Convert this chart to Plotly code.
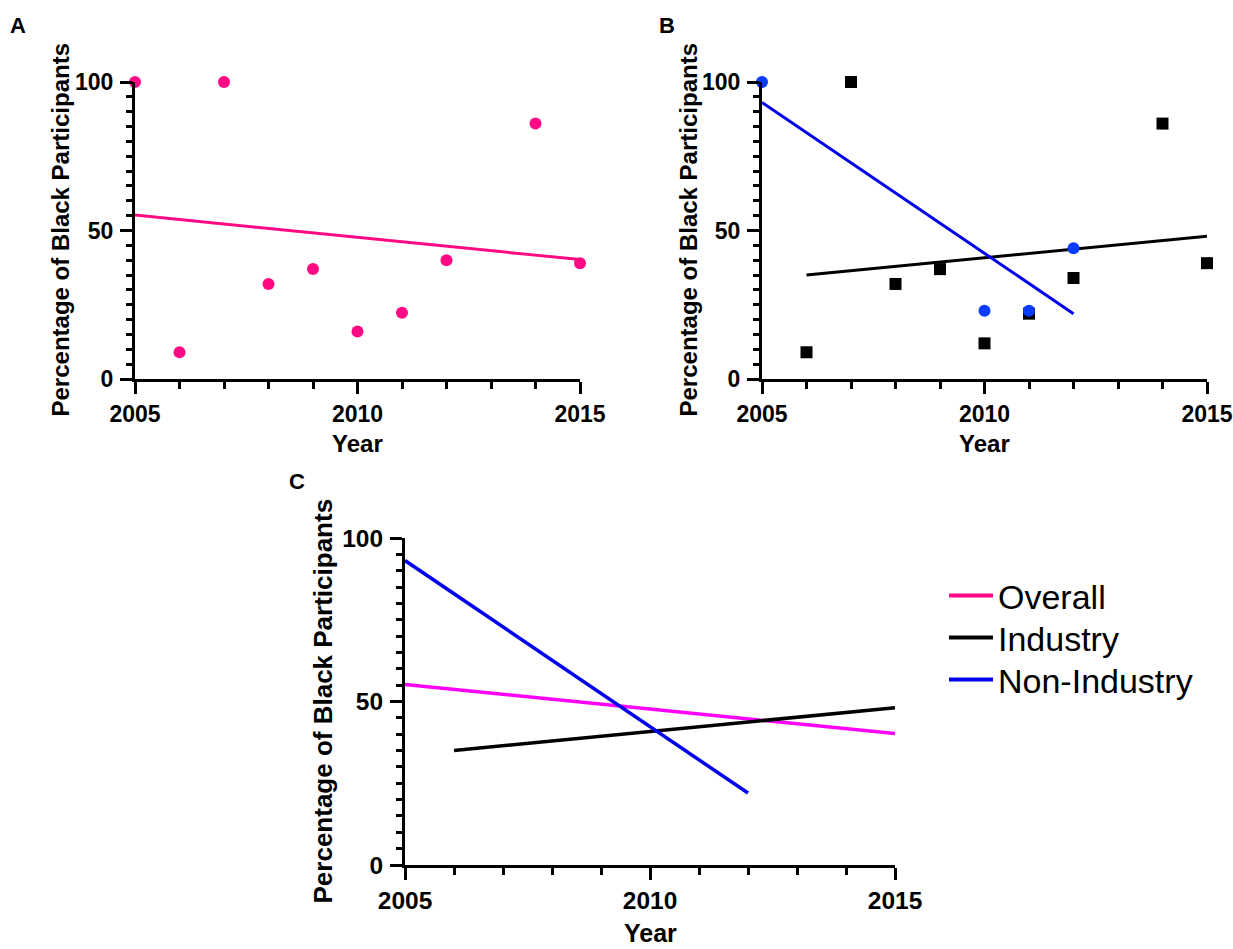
import plotly.graph_objects as go

# ---------------- data ----------------
overall_years = [2005, 2006, 2007, 2008, 2009, 2010, 2011, 2012, 2014, 2015]
overall_pct = [100, 9, 100, 32, 37, 16, 22.3, 40, 86, 39]

industry_years = [2006, 2007, 2008, 2009, 2010, 2011, 2012, 2014, 2015]
industry_pct = [9, 100, 32, 37, 12, 22, 34, 86, 39]

nonind_years = [2005, 2010, 2011, 2012]
nonind_pct = [100, 23, 23, 44]

# linear-fit lines (end points)
overall_fit_years = [2005, 2015]
overall_fit_pct = [55.2, 40.2]
industry_fit_years = [2006, 2015]
industry_fit_pct = [35.0, 48.1]
nonind_fit_years = [2005, 2012]
nonind_fit_pct = [93.1, 22.0]

x_ticks = [2005, 2010, 2015]
y_ticks = [0, 50, 100]
series_names = ["Overall", "Industry", "Non-Industry"]

# ---------------- styling ----------------
W, H = 1233, 949
FONT = "Liberation Sans, Arial, sans-serif"
PINK = "#FF0A84"
MAGENTA = "#FF00FF"
BLUE_LINE = "#0000EE"
BLUE_MARK = "#0A3CFF"
BLACK = "#000000"


def px_x(p):
    return p / W


def px_y(p):
    return 1 - p / H


fig = go.Figure()

# Panel A
fig.add_trace(go.Scatter(x=overall_fit_years, y=overall_fit_pct, mode="lines",
                         line=dict(color=PINK, width=3), xaxis="x", yaxis="y",
                         showlegend=False, cliponaxis=False))
fig.add_trace(go.Scatter(x=overall_years, y=overall_pct, mode="markers",
                         marker=dict(color=PINK, size=12, symbol="circle"),
                         xaxis="x", yaxis="y", showlegend=False, cliponaxis=False))

# Panel B
fig.add_trace(go.Scatter(x=industry_years, y=industry_pct, mode="markers",
                         marker=dict(color=BLACK, size=12, symbol="square"),
                         xaxis="x2", yaxis="y2", showlegend=False, cliponaxis=False))
fig.add_trace(go.Scatter(x=industry_fit_years, y=industry_fit_pct, mode="lines",
                         line=dict(color=BLACK, width=3), xaxis="x2", yaxis="y2",
                         showlegend=False, cliponaxis=False))
fig.add_trace(go.Scatter(x=nonind_fit_years, y=nonind_fit_pct, mode="lines",
                         line=dict(color=BLUE_LINE, width=3), xaxis="x2", yaxis="y2",
                         showlegend=False, cliponaxis=False))
fig.add_trace(go.Scatter(x=nonind_years, y=nonind_pct, mode="markers",
                         marker=dict(color=BLUE_MARK, size=12, symbol="circle"),
                         xaxis="x2", yaxis="y2", showlegend=False, cliponaxis=False))

# Panel C
fig.add_trace(go.Scatter(x=overall_fit_years, y=overall_fit_pct, mode="lines",
                         line=dict(color=MAGENTA, width=3.5), xaxis="x3", yaxis="y3",
                         showlegend=False, cliponaxis=False))
fig.add_trace(go.Scatter(x=industry_fit_years, y=industry_fit_pct, mode="lines",
                         line=dict(color=BLACK, width=3.5), xaxis="x3", yaxis="y3",
                         showlegend=False, cliponaxis=False))
fig.add_trace(go.Scatter(x=nonind_fit_years, y=nonind_fit_pct, mode="lines",
                         line=dict(color=BLUE_LINE, width=3.5), xaxis="x3", yaxis="y3",
                         showlegend=False, cliponaxis=False))

# legend entries, one legend box per row so the rows sit where the reference has them
legend_ids = ["legend", "legend2", "legend3"]
legend_rows_px = [596, 638, 680]
for name, col, lid in zip(series_names, [PINK, BLACK, BLUE_LINE], legend_ids):
    fig.add_trace(go.Scatter(x=[None], y=[None], mode="lines", name=name, legend=lid,
                             line=dict(color=col, width=4), xaxis="x3", yaxis="y3"))


def xaxis(domain, fs):
    return dict(domain=domain, range=[2005, 2015], showline=True, linewidth=3,
                linecolor=BLACK, ticks="outside", ticklen=12, tickwidth=3,
                tickcolor=BLACK, tickvals=x_ticks, showgrid=False, zeroline=False,
                automargin=False,
                tickfont=dict(family=FONT, size=fs, color=BLACK, weight="bold"),
                minor=dict(ticks="outside", dtick=1, tick0=2005, ticklen=7,
                           tickwidth=3, tickcolor=BLACK, showgrid=False),
                fixedrange=True)


def yaxis(domain, anchor, fs):
    return dict(domain=domain, anchor=anchor, range=[0, 100], showline=True,
                linewidth=3, linecolor=BLACK, ticks="outside", ticklen=12,
                tickwidth=3, tickcolor=BLACK, tickvals=y_ticks, showgrid=False,
                zeroline=False, ticklabelstandoff=2, automargin=False,
                tickfont=dict(family=FONT, size=fs, color=BLACK, weight="bold"),
                minor=dict(ticks="outside", dtick=5, tick0=0, ticklen=6,
                           tickwidth=3, tickcolor=BLACK, showgrid=False),
                fixedrange=True)


yA = [px_y(379), px_y(82)]
yC = [px_y(865), px_y(538)]

legends = {}
for lid, row in zip(legend_ids, legend_rows_px):
    legends[lid] = dict(x=px_x(944), y=px_y(row), xanchor="left", yanchor="middle",
                        font=dict(family=FONT, size=34, color=BLACK),
                        bgcolor="rgba(0,0,0,0)", itemwidth=44)

fig.update_layout(
    width=W, height=H,
    margin=dict(l=0, r=0, t=0, b=0, autoexpand=False),
    paper_bgcolor="white", plot_bgcolor="white",
    font=dict(family=FONT, color=BLACK),
    xaxis=dict(**xaxis([px_x(135), px_x(580)], 23), anchor="y"),
    yaxis=yaxis(yA, "x", 23),
    xaxis2=dict(**xaxis([px_x(762), px_x(1207)], 23), anchor="y2"),
    yaxis2=yaxis(yA, "x2", 23),
    xaxis3=dict(**xaxis([px_x(405), px_x(895)], 24.5), anchor="y3"),
    yaxis3=yaxis(yC, "x3", 24.5),
    showlegend=True,
    **legends,
)

ann = []
ytitle = "Percentage of Black Participants"
for xr, yr, shift, fs in [("x", "y", -75, 24), ("x2", "y2", -74, 24), ("x3", "y3", -83, 26)]:
    ann.append(dict(text=ytitle, xref=f"{xr} domain", yref=f"{yr} domain", x=0, y=0.5,
                    xanchor="center", yanchor="middle", xshift=shift, textangle=-90,
                    showarrow=False, font=dict(family=FONT, size=fs, color=BLACK, weight="bold")))
for xr, yr, shift, fs in [("x", "y", -64, 24), ("x2", "y2", -64, 24), ("x3", "y3", -68, 25)]:
    ann.append(dict(text="Year", xref=f"{xr} domain", yref=f"{yr} domain", x=0.5, y=0,
                    xanchor="center", yanchor="middle", yshift=shift,
                    showarrow=False, font=dict(family=FONT, size=fs, color=BLACK, weight="bold")))
for letter, lx, ly in [("A", 18, 25), ("B", 667, 25), ("C", 297, 481)]:
    ann.append(dict(text=letter, xref="paper", yref="paper", x=px_x(lx), y=px_y(ly),
                    xanchor="center", yanchor="middle", showarrow=False,
                    font=dict(family=FONT, size=22, color=BLACK, weight="bold")))
fig.update_layout(annotations=ann)

fig.write_html("out.html", config={"displayModeBar": False})
